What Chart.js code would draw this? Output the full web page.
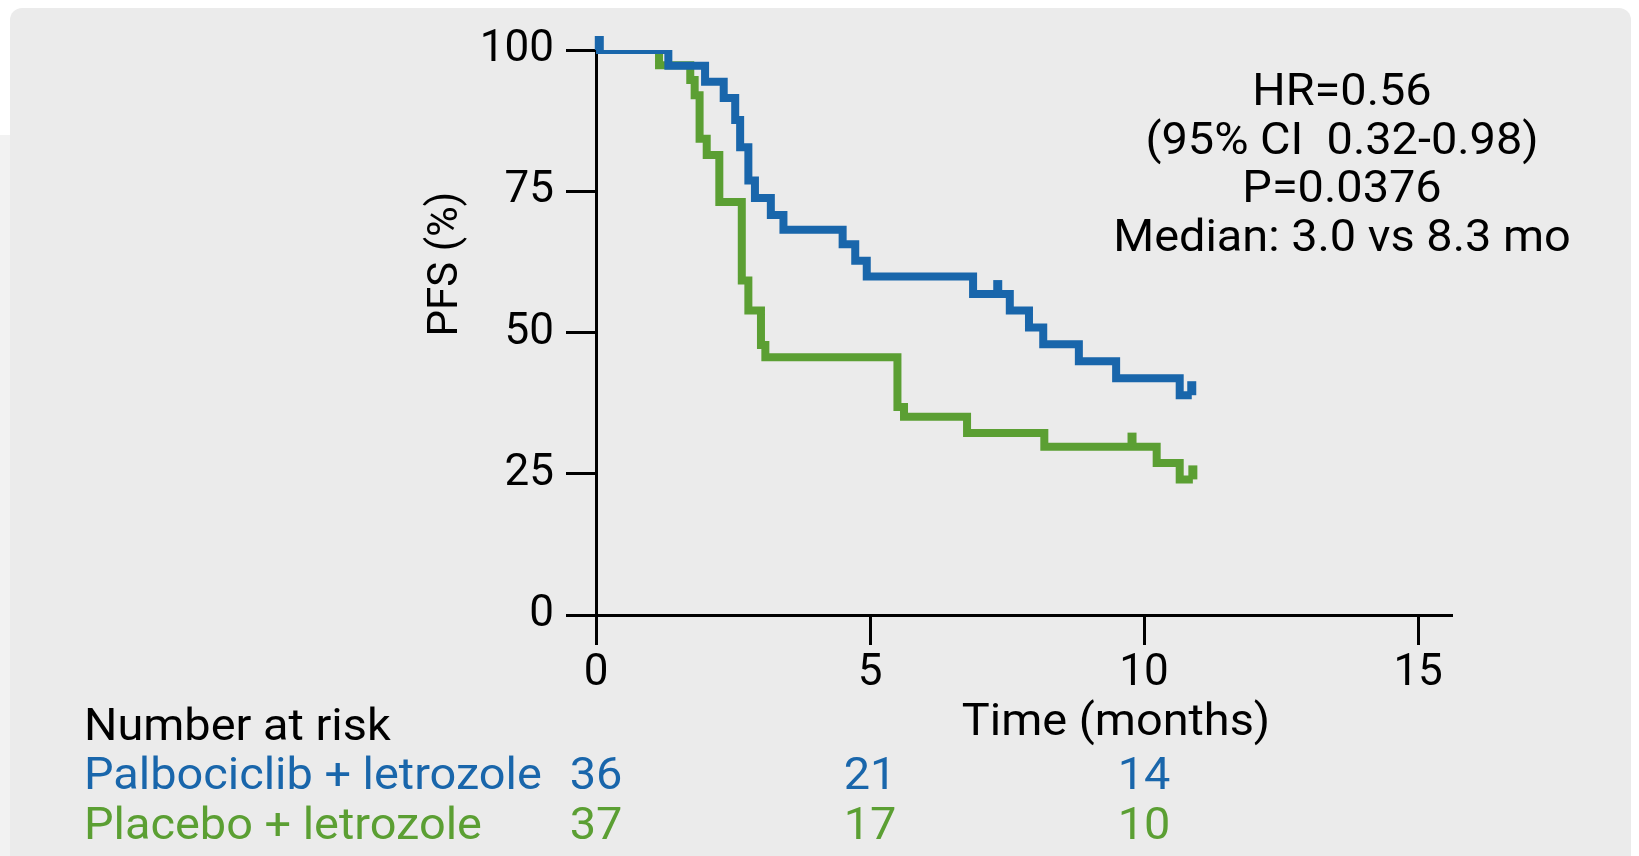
<!DOCTYPE html>
<html>
<head>
<meta charset="utf-8">
<title>PFS Kaplan-Meier</title>
<script src="https://cdn.jsdelivr.net/npm/chart.js@4.4.1/dist/chart.umd.min.js"></script>
<style>
  html, body { margin: 0; padding: 0; background: #ffffff; }
  canvas { display: block; }
</style>
</head>
<body>
<canvas id="km" width="1639" height="856"></canvas>
<script>
// Kaplan-Meier step points: time (months) and PFS (%) after each event
const palboTimes = [0, 1.32, 1.99, 2.33, 2.54, 2.63, 2.78, 2.90, 3.19, 3.42, 4.50, 4.73, 4.94, 6.88, 7.55, 7.90, 8.16, 8.81, 9.49, 10.65, 10.87];
const palboPFS   = [100, 97.2, 94.4, 91.5, 87.6, 82.8, 76.9, 73.8, 70.8, 68.2, 65.6, 62.7, 59.9, 56.8, 53.9, 50.9, 47.9, 44.9, 41.9, 38.9, 38.9];
const palboCensored = [0.06, 7.33, 10.87];

const placeboTimes = [0, 1.15, 1.72, 1.80, 1.89, 2.02, 2.25, 2.66, 2.78, 3.01, 3.09, 5.50, 5.62, 6.77, 8.18, 10.23, 10.65, 10.89];
const placeboPFS   = [100, 97.3, 94.7, 92.0, 84.3, 81.4, 73.1, 59.2, 53.9, 47.8, 45.6, 36.8, 35.1, 32.2, 29.8, 26.9, 24.0, 24.0];
const placeboCensored = [9.78, 10.89];

// Axis ticks
const xTickValues = [0, 5, 10, 15];
const yTickValues = [0, 25, 50, 75, 100];

// Number-at-risk table
const riskTimes = [0, 5, 10];
const palboAtRisk = [36, 21, 14];
const placeboAtRisk = [37, 17, 10];
const armNames = ['Palbociclib + letrozole', 'Placebo + letrozole'];

// Summary statistics block
const statsLines = ['HR=0.56', '(95% CI  0.32-0.98)', 'P=0.0376', 'Median: 3.0 vs 8.3 mo'];

const BLUE = '#1966ab';
const GREEN = '#5b9f33';
const FONT = 'Roboto, "Liberation Sans", Arial, sans-serif';

function toPoints(ts, vs) { return ts.map((t, i) => ({ x: t, y: vs[i] })); }

function levelAt(ts, vs, t) {
  let v = vs[0];
  for (let i = 0; i < ts.length; i++) { if (ts[i] <= t) v = vs[i]; }
  return v;
}

// Text helper with a slight horizontal stretch
function drawText(ctx, text, x, y, align, size, color, sx) {
  ctx.save();
  ctx.font = size + 'px ' + FONT;
  ctx.fillStyle = color;
  ctx.textBaseline = 'alphabetic';
  const w = ctx.measureText(text).width * sx;
  let left = x;
  if (align === 'center') left = x - w / 2;
  else if (align === 'right') left = x - w;
  ctx.translate(left, y);
  ctx.scale(sx, 1);
  ctx.textAlign = 'left';
  ctx.fillText(text, 0, 0);
  ctx.restore();
}

const panelPlugin = {
  id: 'panel',
  beforeDraw(chart) {
    const ctx = chart.ctx;
    ctx.save();
    ctx.fillStyle = '#ffffff';
    ctx.fillRect(0, 0, chart.width, chart.height);
    ctx.fillStyle = '#f2f2f2';
    ctx.fillRect(0, 135, 10, chart.height - 135);
    ctx.fillStyle = '#ebebeb';
    ctx.beginPath();
    ctx.roundRect(10, 8, 1621, chart.height + 20, 12);
    ctx.fill();
    ctx.restore();
  }
};

const censorPlugin = {
  id: 'censor',
  afterDatasetsDraw(chart) {
    const ctx = chart.ctx;
    const xs = chart.scales.x, ys = chart.scales.y;
    const sets = [
      [placeboCensored, placeboTimes, placeboPFS, GREEN],
      [palboCensored, palboTimes, palboPFS, BLUE]
    ];
    ctx.save();
    for (const [cs, ts, vs, col] of sets) {
      ctx.fillStyle = col;
      for (const t of cs) {
        const px = xs.getPixelForValue(t);
        const py = ys.getPixelForValue(levelAt(ts, vs, t));
        ctx.fillRect(px - 4.5, py - 14, 9, 14);
      }
    }
    ctx.restore();
  }
};

const labelsPlugin = {
  id: 'labels',
  afterDraw(chart) {
    const ctx = chart.ctx;
    const xs = chart.scales.x;
    const SX = 1.065;

    // statistics block
    const statBase = [105, 154, 202, 251];
    statsLines.forEach((s, i) => drawText(ctx, s, 1342, statBase[i], 'center', 44, '#000', SX));

    // x-axis title
    drawText(ctx, 'Time (months)', 1116, 735, 'center', 44, '#000', SX);

    // y-axis title
    ctx.save();
    ctx.translate(457, 264);
    ctx.rotate(-Math.PI / 2);
    ctx.font = '42px ' + FONT;
    ctx.fillStyle = '#000';
    ctx.textAlign = 'center';
    ctx.textBaseline = 'alphabetic';
    ctx.fillText('PFS (%)', 0, 0);
    ctx.restore();

    // number at risk
    drawText(ctx, 'Number at risk', 84, 740, 'left', 44, '#000', SX);
    drawText(ctx, armNames[0], 84, 789, 'left', 44, BLUE, SX);
    drawText(ctx, armNames[1], 84, 839, 'left', 44, GREEN, SX);
    riskTimes.forEach((t, i) => {
      const px = xs.getPixelForValue(t);
      drawText(ctx, String(palboAtRisk[i]), px, 789, 'center', 44, BLUE, SX);
      drawText(ctx, String(placeboAtRisk[i]), px, 839, 'center', 44, GREEN, SX);
    });
  }
};

const axisCommon = {
  grid: { drawOnChartArea: false, drawTicks: true, tickLength: 30, tickWidth: 3, tickColor: '#000', color: '#000', lineWidth: 3 },
  border: { display: true, color: '#000', width: 3 }
};

new Chart(document.getElementById('km'), {
  type: 'line',
  data: {
    datasets: [
      {
        label: armNames[0],
        data: toPoints(palboTimes, palboPFS),
        borderColor: BLUE,
        borderWidth: 8,
        stepped: true,
        pointRadius: 0,
        fill: false,
        borderJoinStyle: 'miter',
        borderCapStyle: 'butt',
        order: 0
      },
      {
        label: armNames[1],
        data: toPoints(placeboTimes, placeboPFS),
        borderColor: GREEN,
        borderWidth: 8,
        stepped: true,
        pointRadius: 0,
        fill: false,
        borderJoinStyle: 'miter',
        borderCapStyle: 'butt',
        order: 1
      }
    ]
  },
  options: {
    responsive: false,
    animation: false,
    devicePixelRatio: 1,
    layout: { padding: { left: 0, right: 188, top: 50, bottom: 141 } },
    plugins: { legend: { display: false }, tooltip: { enabled: false } },
    scales: {
      x: {
        type: 'linear',
        min: 0,
        max: 15.6,
        afterBuildTicks: s => { s.ticks = xTickValues.map(v => ({ value: v })); },
        afterFit: s => { s.height = 100; },
        ticks: { font: { family: FONT, size: 44 }, color: '#000', padding: 3, maxRotation: 0, autoSkip: false },
        ...axisCommon
      },
      y: {
        type: 'linear',
        min: 0,
        max: 100,
        afterBuildTicks: s => { s.ticks = yTickValues.map(v => ({ value: v })); },
        afterFit: s => { s.width = 596; },
        ticks: { font: { family: FONT, size: 44 }, color: '#000', padding: 12, autoSkip: false },
        ...axisCommon
      }
    }
  },
  plugins: [panelPlugin, censorPlugin, labelsPlugin]
});
</script>
</body>
</html>
